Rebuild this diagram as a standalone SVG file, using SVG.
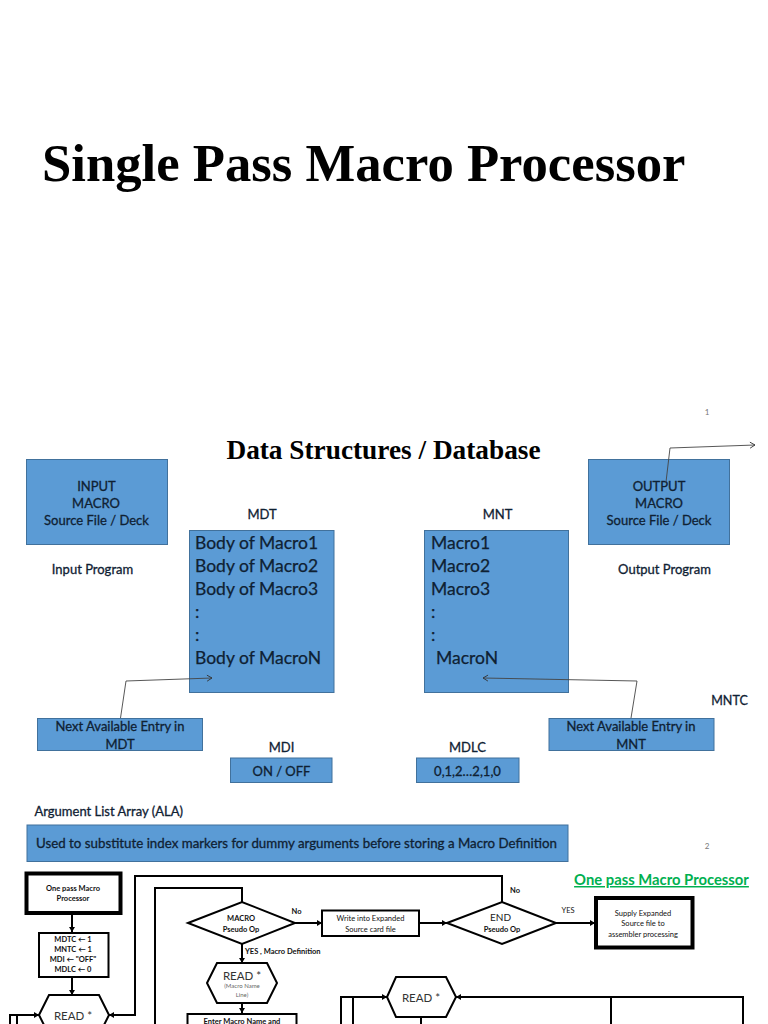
<svg xmlns="http://www.w3.org/2000/svg" width="768" height="1024" viewBox="0 0 768 1024">
<defs>
<marker id="open" markerUnits="userSpaceOnUse" markerWidth="10" markerHeight="10" refX="8" refY="5" orient="auto"><path d="M3,2 L8,5 L3,8" fill="none" stroke="#333" stroke-width="0.9"/></marker>
<marker id="solid" markerUnits="userSpaceOnUse" markerWidth="8" markerHeight="8" refX="6" refY="4" orient="auto"><path d="M1,1 L6,4 L1,7 Z" fill="#000"/></marker>
</defs>
<style>
text{font-family:Lato,Carlito,"Liberation Sans",sans-serif;fill:#0f2133;text-anchor:middle}
.blue{fill:#5b9bd5;stroke:#41719c;stroke-width:1}
.t13{font-size:13px;stroke:#0f2133;stroke-width:.3px}
.wide{font-size:13.3px}
.t17{font-size:17.5px;text-anchor:start;stroke:#0f2133;stroke-width:.25px}
.serif{font-family:"Liberation Serif",serif;font-weight:700;fill:#000}
.pg{font-size:8px;fill:#777}
.thin{fill:none;stroke:#444;stroke-width:.9}
.fl{fill:#fff;stroke:#000;stroke-width:2}
.th{fill:#fff;stroke:#000;stroke-width:4}
.ln{fill:none;stroke:#000;stroke-width:2}
.arr{marker-end:url(#solid)}
.f{fill:#111;font-weight:700;font-size:7.5px}
.g{fill:#333;font-size:11.5px}
</style>
<rect width="768" height="1024" fill="#fff"/>
<g id="title"><text class="serif" x="42" y="181" font-size="52.7" style="text-anchor:start">Single Pass Macro Processor</text></g>
<g id="page1"><text class="pg" x="707" y="415">1</text></g>
<g id="heading"><text class="serif" x="383.500" y="459" font-size="27.300">Data Structures / Database</text></g>
<g id="input"><rect class="blue" x="26.500" y="459.500" width="141" height="85"/><text class="t13" x="96.500" y="491">INPUT</text><text class="t13" x="96" y="508">MACRO</text><text class="t13" x="96.500" y="525">Source File / Deck</text></g>
<g id="input-label"><text class="t13" x="92.500" y="574">Input Program</text></g>
<g id="mdt-label"><text class="t13" x="262" y="519">MDT</text></g>
<g id="mdt"><rect class="blue" x="189.500" y="530.500" width="144.500" height="162"/>
<text class="t17" x="195" y="549">Body of Macro1</text><text class="t17" x="195" y="572">Body of Macro2</text><text class="t17" x="195" y="595">Body of Macro3</text><text class="t17" x="195" y="618">:</text><text class="t17" x="195" y="641">:</text><text class="t17" x="195" y="664">Body of MacroN</text></g>
<g id="mnt-label"><text class="t13" x="497.500" y="519">MNT</text></g>
<g id="mnt"><rect class="blue" x="424.500" y="530.500" width="144" height="162"/>
<text class="t17" x="431" y="549">Macro1</text><text class="t17" x="431" y="572">Macro2</text><text class="t17" x="431" y="595">Macro3</text><text class="t17" x="431" y="618">:</text><text class="t17" x="431" y="641">:</text><text class="t17" x="436" y="664">MacroN</text></g>
<g id="output"><rect class="blue" x="588.500" y="459.500" width="141" height="85"/><text class="t13" x="659" y="491">OUTPUT</text><text class="t13" x="659" y="508">MACRO</text><text class="t13" x="659" y="525">Source File / Deck</text></g>
<g id="output-label"><text class="t13" x="664.500" y="574">Output Program</text></g>
<g id="mntc-label"><text class="t13" x="729.500" y="705" font-size="12.500" style="font-size:12.500px">MNTC</text></g>
<g id="next-mdt"><rect class="blue" x="37.500" y="718.500" width="165" height="32"/><text class="t13" x="120" y="731">Next Available Entry in</text><text class="t13" x="120" y="749">MDT</text></g>
<g id="next-mnt"><rect class="blue" x="549" y="718.500" width="165" height="32"/><text class="t13" x="631" y="731">Next Available Entry in</text><text class="t13" x="631" y="749">MNT</text></g>
<g id="mdi-label"><text class="t13" x="281.500" y="752">MDI</text></g>
<g id="mdi"><rect class="blue" x="230.500" y="758" width="101.500" height="24.500"/><text class="t13" x="281.500" y="776">ON / OFF</text></g>
<g id="mdlc-label"><text class="t13" x="467.500" y="752">MDLC</text></g>
<g id="mdlc"><rect class="blue" x="416.500" y="758" width="102.500" height="24.500"/><text class="t13" x="467.500" y="776">0,1,2…2,1,0</text></g>
<g id="ala-label"><text class="t13" x="34.500" y="816" style="text-anchor:start">Argument List Array (ALA)</text></g>
<g id="ala"><rect class="blue" x="27" y="825" width="541" height="36.500"/><text class="t13 wide" x="36" y="848" style="text-anchor:start">Used to substitute index markers for dummy arguments before storing a Macro Definition</text></g>
<g id="page2"><text class="pg" x="707" y="849">2</text></g>
<g id="flow-title"><text x="661.500" y="885" font-size="14.800" font-weight="700" style="fill:#00b050" text-decoration="underline">One pass Macro Processor</text></g>

<g id="connectors">
<path class="thin" marker-end="url(#open)" d="M666,482 L670,448 L755,445"/>
<path class="thin" marker-end="url(#open)" d="M120.500,718 L126,681 L212,678"/>
<path class="thin" marker-end="url(#open)" d="M631,718 L637,681 L483,678"/>
<path class="ln arr" d="M72,914 V932"/>
<path class="ln arr" d="M72,977 V995"/>
<path class="ln arr" d="M10,1024 V1015 H39"/>
<path class="ln" d="M17,1024 V1015"/>
<path class="ln arr" d="M502,902 V876 H135 V1015 H109"/>
<path class="ln" d="M242,902 V888 H155 V1024"/>
<path class="ln arr" d="M295,923 H322"/>
<path class="ln arr" d="M419,923 H447"/>
<path class="ln arr" d="M556,923 H595"/>
<path class="ln arr" d="M242,944 V963"/>
<path class="ln arr" d="M242,1003 V1013"/>
<path class="ln arr" d="M341,1024 V997 H387"/>
<path class="ln" d="M353,1024 V997"/>
<path class="ln arr" d="M743,1024 V997 H456"/>
<path class="ln" d="M611,1024 V997"/>
<path class="ln" d="M421,1017 V1024"/>
</g>

<g id="start"><rect class="th" x="26.500" y="873.500" width="94" height="39.500"/><text class="f" x="73" y="891">One pass Macro</text><text class="f" x="73" y="901">Processor</text></g>
<g id="init"><rect class="fl" x="39" y="933" width="69.500" height="44"/><text class="f" x="73" y="941.500">MDTC ← 1</text><text class="f" x="73" y="951.500">MNTC ← 1</text><text class="f" x="73" y="961.500">MDI ← "OFF"</text><text class="f" x="73" y="972">MDLC ← 0</text></g>
<g id="read1"><path class="fl" d="M39,1015 L49,995 H99 L109,1015 L99,1035 H49 Z"/><text class="g" x="73" y="1020">READ *</text></g>
<g id="macro-op"><path class="fl" d="M188,923 L242,902 L295,923 L242,944 Z"/><text class="f" x="241" y="921">MACRO</text><text class="f" x="241" y="931.500">Pseudo Op</text></g>
<g id="write"><rect class="fl" x="322" y="910.500" width="97" height="25.500"/><text class="f" x="370.500" y="920.500" style="font-weight:400">Write into Expanded</text><text class="f" x="370.500" y="931.500" style="font-weight:400">Source card file</text></g>
<g id="end-op"><path class="fl" d="M447,923 L502,902 L556,923 L502,944 Z"/><text x="500.500" y="921" font-size="10" style="fill:#222">END</text><text class="f" x="502" y="932">Pseudo Op</text></g>
<g id="supply"><rect class="th" x="596" y="898" width="96.500" height="49.500"/><text class="f" x="643" y="915.500" style="font-weight:400">Supply Expanded</text><text class="f" x="643" y="925.500" style="font-weight:400">Source file to</text><text class="f" x="643" y="937" style="font-weight:400">assembler processing</text></g>
<g id="read2"><path class="fl" d="M207,983 L217,963 H267 L277,983 L267,1003 H217 Z"/><text class="g" x="242" y="980">READ *</text><text x="242" y="988" font-size="6" style="fill:#666">(Macro Name</text><text x="242" y="997" font-size="6" style="fill:#666">Line)</text></g>
<g id="enter"><rect class="fl" x="187.500" y="1014" width="109" height="20"/><text class="f" x="242" y="1024">Enter Macro Name and</text></g>
<g id="read3"><path class="fl" d="M387,997 L396,977 H446 L456,997 L446,1017 H396 Z"/><text class="g" x="421" y="1002">READ *</text></g>
<g id="flow-labels"><text class="f" x="296.500" y="913.500">No</text><text class="f" x="515" y="893">No</text><text class="f" x="568" y="912.500" style="font-weight:400">YES</text><text class="f" x="245" y="954" style="text-anchor:start">YES , Macro Definition</text></g>
</svg>
